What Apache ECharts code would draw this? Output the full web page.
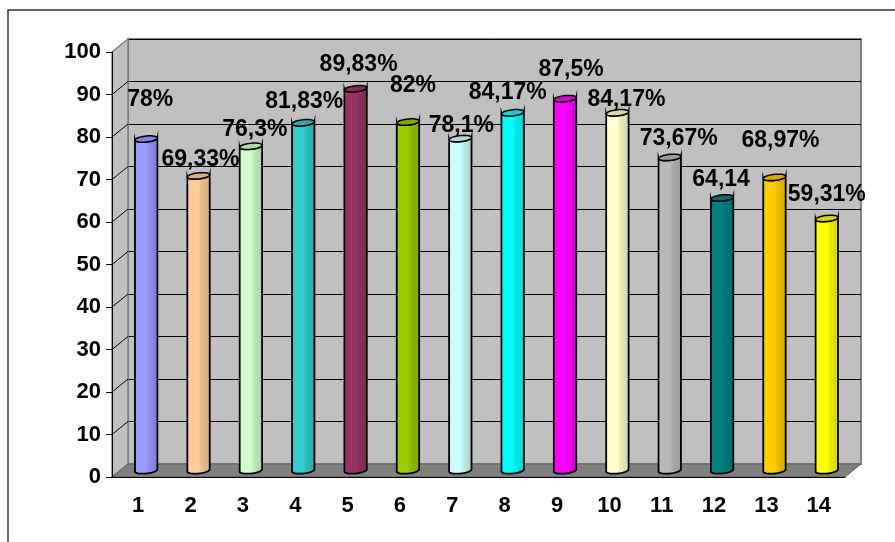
<!DOCTYPE html>
<html>
<head>
<meta charset="utf-8">
<script src="https://cdn.jsdelivr.net/npm/echarts@6/dist/echarts.min.js"></script>
<style>
html, body { margin: 0; padding: 0; background: #fff; }
#main { width: 895px; height: 542px; }
</style>
</head>
<body>
<div id="main"></div>
<script>
// categories and values
var categories = ['1', '2', '3', '4', '5', '6', '7', '8', '9', '10', '11', '12', '13', '14'];
var values = [78, 69.33, 76.3, 81.83, 89.83, 82, 78.1, 84.17, 87.5, 84.17, 73.67, 64.14, 68.97, 59.31];
var valueLabels = ['78%', '69,33%', '76,3%', '81,83%', '89,83%', '82%', '78,1%', '84,17%', '87,5%', '84,17%', '73,67%', '64,14', '68,97%', '59,31%'];
var barColors = ['#9999ff', '#ffcc99', '#ccffcc', '#33cccc', '#993366', '#99cc00', '#ccffff',
                 '#00ffff', '#ff00ff', '#ffffcc', '#b8b8b8', '#008080', '#ffcc00', '#ffff00'];
// label placement (layout only)
var labelLift = [39, 16, 16.5, 21.5, 24, 36.5, 12.5, 20.5, 28.5, 13.5, 18.5, 18, 36.5, 24];
var labelShift = [4, 2, 4, 1, 3, 5, 1, -5, 6, 9, 9, -1, 6, 0];

var DX = 16, DY = -13;   // depth of the 3d box
var R = 10.5;            // cylinder radius

var myChart = echarts.init(document.getElementById('main'));

function shade(hex, k) {
    var c = echarts.color.parse(hex);
    return 'rgb(' + Math.round(c[0] * k) + ',' + Math.round(c[1] * k) + ',' + Math.round(c[2] * k) + ')';
}

// points of the (oblique) top/bottom ellipse
function ring(cx, cy, a0, a1, n) {
    var pts = [];
    for (var j = 0; j <= n; j++) {
        var t = a0 + (a1 - a0) * j / n;
        pts.push([cx + R * Math.cos(t) + 3.9 * Math.sin(t), cy - 3.2 * Math.sin(t)]);
    }
    return pts;
}

function renderBar(params, api) {
    var i = params.dataIndex;
    var top = api.coord([api.value(0), api.value(1)]);
    var base = api.coord([api.value(0), 0]);
    var cx = top[0] + DX / 2;
    var ty = top[1] + DY / 2;
    var by = base[1] + DY / 2;
    var col = barColors[i];
    var t0 = Math.atan(3.9 / R);
    var topArc = ring(cx, ty, t0 + Math.PI, t0 + 2 * Math.PI, 24);
    var botArc = ring(cx, by, t0 + 2 * Math.PI, t0 + Math.PI, 24);
    return {
        type: 'group',
        children: [{
            type: 'polygon',
            shape: { points: topArc.concat(botArc) },
            style: {
                fill: new echarts.graphic.LinearGradient(0, 0, 1, 0, [
                    { offset: 0, color: col },
                    { offset: 0.5, color: col },
                    { offset: 0.62, color: shade(col, 0.92) },
                    { offset: 1, color: shade(col, 0.82) }
                ]),
                stroke: '#000',
                lineWidth: 1.8
            }
        }, {
            type: 'polygon',
            shape: { points: ring(cx, ty, 0, 2 * Math.PI, 40) },
            style: { fill: shade(col, 0.85), stroke: '#000', lineWidth: 1.5 }
        }, {
            type: 'text',
            style: {
                x: cx + labelShift[i],
                y: ty - labelLift[i],
                text: valueLabels[i],
                fill: '#000',
                font: 'bold 23px "Liberation Sans", Arial, sans-serif',
                align: 'center',
                verticalAlign: 'middle'
            }
        }]
    };
}

function renderWalls(params, api) {
    var w = api.size([1, 0])[0];
    var p0 = api.coord([0, 0]);
    var p100 = api.coord([0, 100]);
    var left = p0[0] - w / 2;
    var right = api.coord([categories.length - 1, 0])[0] + w / 2;
    var y0 = p0[1], y100 = p100[1];
    var kids = [{
        type: 'polygon',
        shape: { points: [[left, y100], [left + DX, y100 + DY], [left + DX, y0 + DY], [left, y0]] },
        style: { fill: '#c0c0c0', stroke: '#808080', lineWidth: 1.5 }
    }, {
        type: 'polygon',
        shape: { points: [[left, y0], [left + DX, y0 + DY], [right + DX, y0 + DY], [right, y0]] },
        style: { fill: '#808080', stroke: '#606060', lineWidth: 1 }
    }];
    for (var v = 10; v <= 90; v += 10) {
        var y = api.coord([0, v])[1];
        kids.push({
            type: 'line',
            shape: { x1: left, y1: y, x2: left + DX, y2: y + DY },
            style: { stroke: '#000', lineWidth: 1 }
        });
    }
    return { type: 'group', children: kids };
}

var labelFont = { color: '#000', fontSize: 22, fontWeight: 'bold', fontFamily: '"Liberation Sans", Arial, sans-serif' };

var option = {
    animation: false,
    graphic: [{
        type: 'rect',
        shape: { x: 8, y: 10, width: 900, height: 600 },
        style: { fill: 'none', stroke: '#333', lineWidth: 1.5 },
        z: -10
    }],
    grid: [
        { left: 112, top: 52, width: 733, height: 425 },
        { left: 128, top: 39, width: 733, height: 425, show: true, backgroundColor: '#c0c0c0', borderColor: '#808080', borderWidth: 2, z: -5 }
    ],
    xAxis: [{
        gridIndex: 0,
        type: 'category',
        data: categories,
        z: 10,
        axisLine: { lineStyle: { color: '#000', width: 1 } },
        axisTick: { length: 7, lineStyle: { color: '#000' } },
        axisLabel: Object.assign({ margin: 18 }, labelFont),
        splitLine: { show: false }
    }, {
        gridIndex: 1,
        type: 'category',
        data: categories,
        show: false
    }],
    yAxis: [{
        gridIndex: 0,
        type: 'value',
        min: 0, max: 100, interval: 10,
        z: 10,
        axisLine: { show: true, lineStyle: { color: '#000', width: 1 } },
        axisTick: { show: true, length: 6, lineStyle: { color: '#000' } },
        axisLabel: Object.assign({ margin: 11 }, labelFont),
        splitLine: { show: false }
    }, {
        gridIndex: 1,
        type: 'value',
        min: 0, max: 100, interval: 10,
        axisLine: { show: false },
        axisTick: { show: false },
        axisLabel: { show: false },
        splitLine: { show: true, lineStyle: { color: '#000', width: 1 } }
    }],
    series: [{
        type: 'custom',
        xAxisIndex: 0, yAxisIndex: 0,
        renderItem: renderWalls,
        data: [[0, 0]],
        clip: false,
        silent: true,
        z: 1
    }, {
        type: 'custom',
        xAxisIndex: 0, yAxisIndex: 0,
        renderItem: renderBar,
        data: values.map(function (v, i) { return [i, v]; }),
        clip: false,
        z: 3
    }]
};
myChart.setOption(option);
</script>
</body>
</html>
